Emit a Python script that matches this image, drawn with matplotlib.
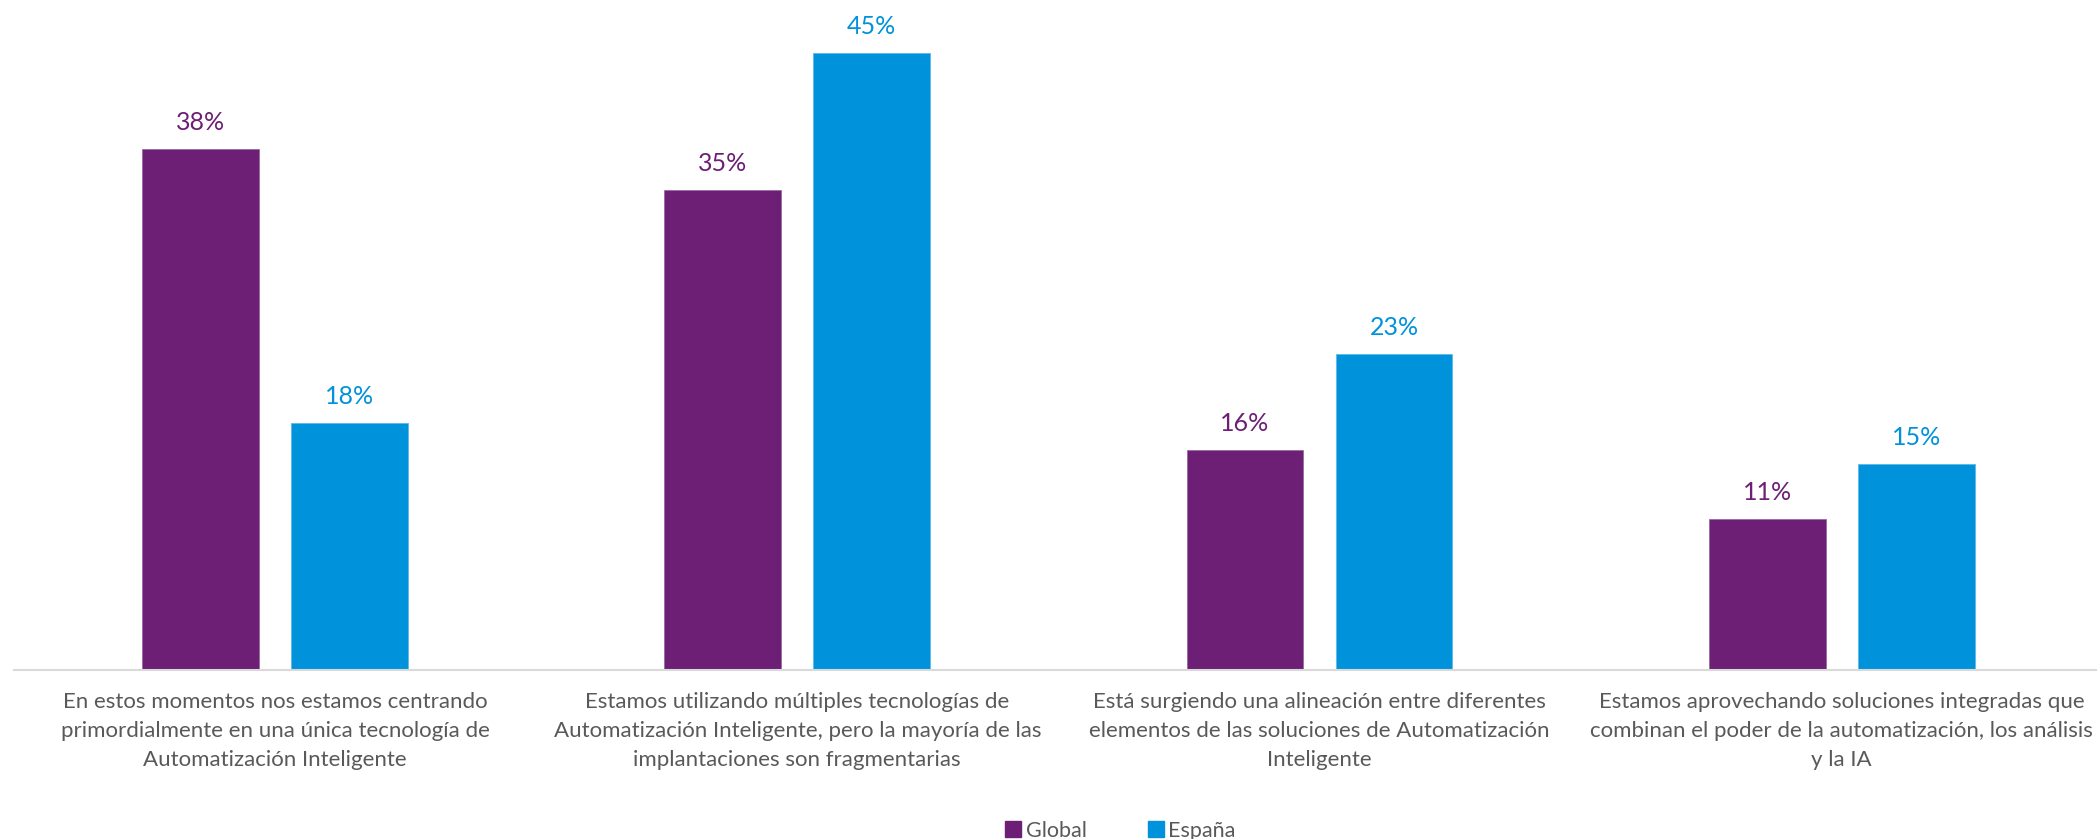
import matplotlib
matplotlib.use("Agg")
import matplotlib.pyplot as plt
from matplotlib.lines import Line2D
import numpy as np

categories = [
    "En estos momentos nos estamos centrando\nprimordialmente en una única tecnología de\nAutomatización Inteligente",
    "Estamos utilizando múltiples tecnologías de\nAutomatización Inteligente, pero la mayoría de las\nimplantaciones son fragmentarias",
    "Está surgiendo una alineación entre diferentes\nelementos de las soluciones de Automatización\nInteligente",
    "Estamos aprovechando soluciones integradas que\ncombinan el poder de la automatización, los análisis\ny la IA",
]
series_names = ["Global", "España"]
global_vals = [38, 35, 16, 11]
espana_vals = [18, 45, 23, 15]

c_global = "#6D1F75"
c_espana = "#0092DA"
text_gray = "#595959"

plt.rcParams['font.family'] = ['Lato', 'DejaVu Sans']

W, H = 2097, 839
fig = plt.figure(figsize=(W / 100, H / 100), dpi=100)
left_px, base_px, group_px = 14, 669.5, 522.2
ax = fig.add_axes([left_px / W, 1 - base_px / H, 4 * group_px / W, base_px / H])

x = np.arange(len(categories))
bw = 0.2235
off = 0.1427
b1 = ax.bar(x - off, global_vals, bw, color=c_global, edgecolor="#9a6aa0", linewidth=0.6)
b2 = ax.bar(x + off, espana_vals, bw, color=c_espana, edgecolor="#5cb8e8", linewidth=0.6)

ax.set_xlim(-0.5, 3.5)
ax.set_ylim(0, base_px / 13.71)
for s in ["top", "right", "left"]:
    ax.spines[s].set_visible(False)
ax.spines["bottom"].set_color("#d9d9d9")
ax.spines["bottom"].set_linewidth(1.5)
ax.set_yticks([])
ax.set_xticks([])

for bars, vals, col in [(b1, global_vals, c_global), (b2, espana_vals, c_espana)]:
    for b, v in zip(bars, vals):
        ax.annotate(f"{v}%", xy=(b.get_x() + b.get_width() / 2, v),
                    xytext=(0, 19), textcoords="offset pixels",
                    ha="center", va="baseline", fontsize=18, color=col)

for i, lab in enumerate(categories):
    ax.annotate(lab, xy=(i, 0), xycoords=("data", "axes fraction"),
                xytext=(0, -22), textcoords="offset pixels",
                ha="center", va="top", fontsize=16, color=text_gray,
                multialignment="center", linespacing=1.58)

handles = [Line2D([], [], marker="s", linestyle="none", markersize=11, color=c)
           for c in (c_global, c_espana)]
fig.legend(handles, series_names, loc="center", bbox_to_anchor=(1119 / W, 1 - 831 / H),
           ncol=2, frameon=False, fontsize=15.5, handletextpad=0.1, columnspacing=2.7,
           labelcolor=text_gray, handlelength=1.0)

fig.savefig("out.png", dpi=100)
